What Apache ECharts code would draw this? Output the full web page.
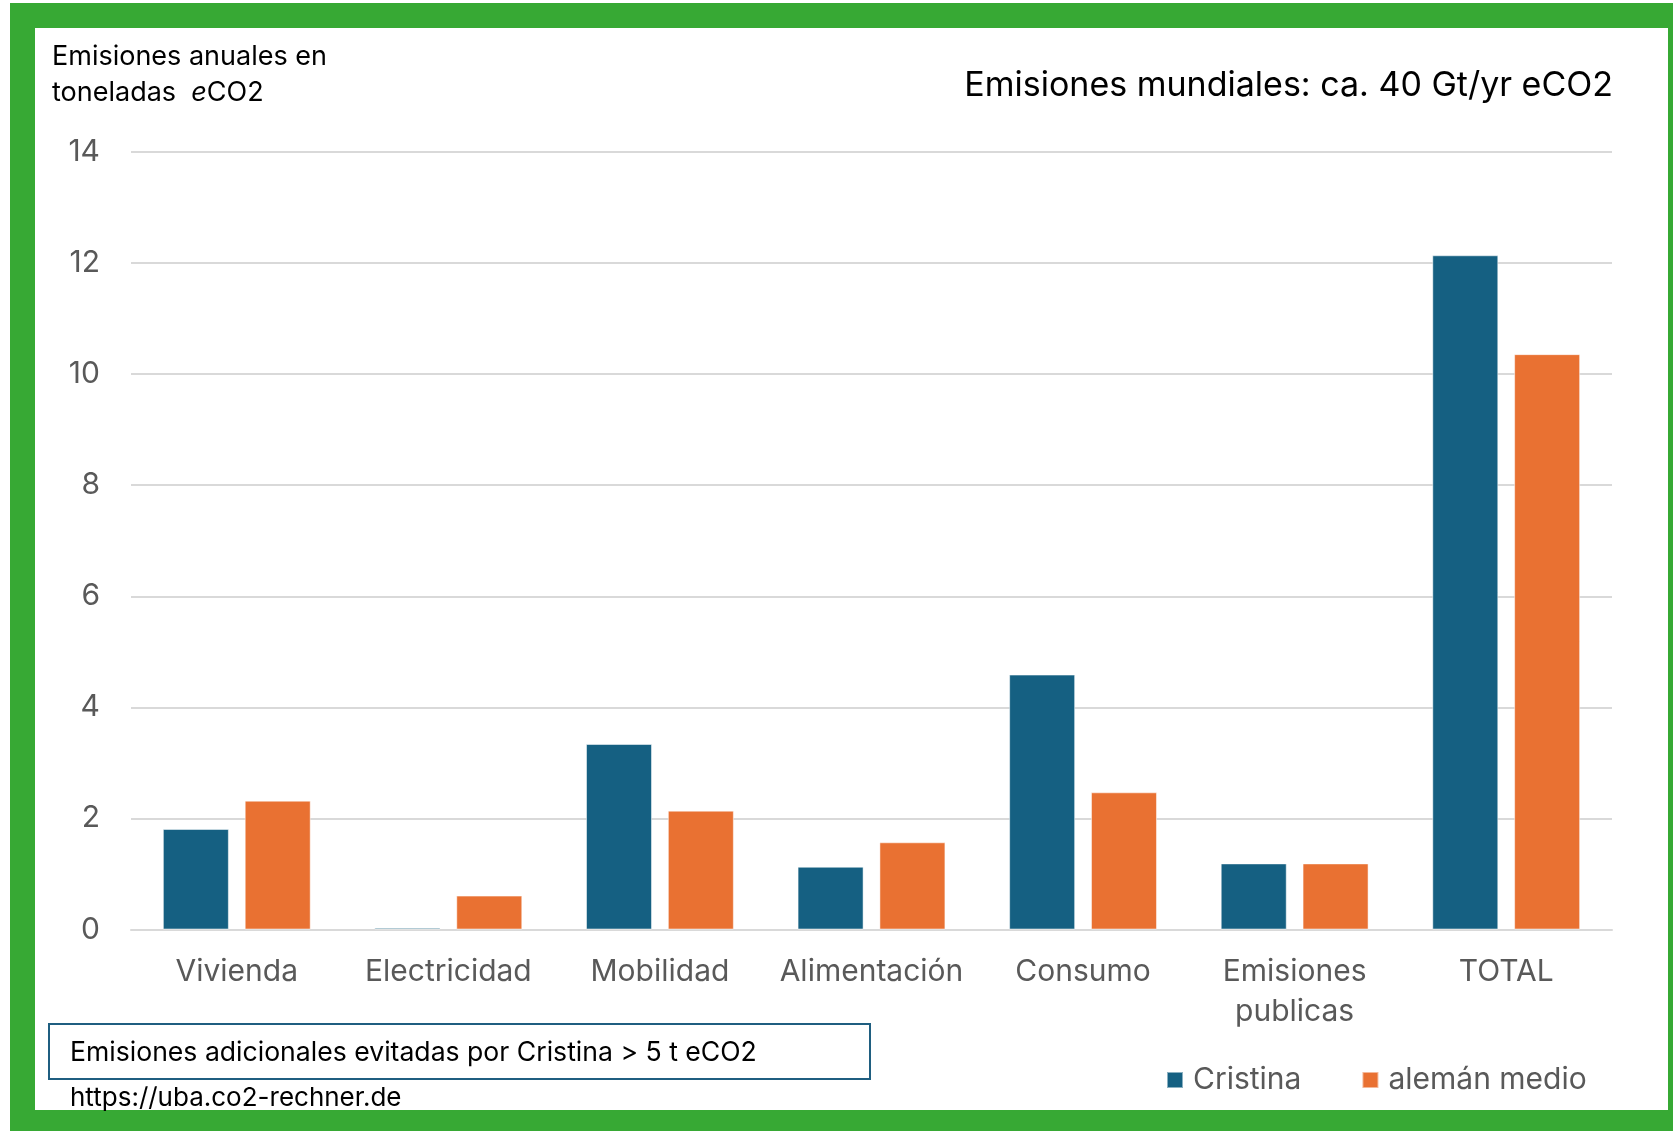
<!DOCTYPE html>
<html>
<head>
<meta charset="utf-8">
<script src="https://cdn.jsdelivr.net/npm/echarts@6/dist/echarts.min.js"></script>
<style>
html,body{margin:0;padding:0;background:#fff;}
#chart{width:1673px;height:1131px;}
</style>
</head>
<body>
<div id="chart"></div>
<script>
const categories = ['Vivienda', 'Electricidad', 'Mobilidad', 'Alimentación', 'Consumo', 'Emisiones\npublicas', 'TOTAL'];
const cristina = [1.81, 0.03, 3.34, 1.13, 4.59, 1.19, 12.14];
const alemanMedio = [2.32, 0.61, 2.14, 1.57, 2.47, 1.19, 10.36];
const seriesNames = ['Cristina', 'alemán medio'];
const yTicks = { min: 0, max: 14, interval: 2 };

const FONT = 'Inter, "Noto Sans", sans-serif';
const GREEN = '#37A934';

const chart = echarts.init(document.getElementById('chart'));
chart.setOption({
  backgroundColor: '#fff',
  animation: false,
  textStyle: { fontFamily: FONT },
  grid: { left: 131, right: 61, top: 152, bottom: 201.5 },
  legend: {
    data: seriesNames,
    left: 1166, top: 1065,
    padding: 0,
    itemWidth: 16, itemHeight: 16, itemGap: 60,
    icon: 'rect',
    textStyle: { fontFamily: FONT, fontSize: 30, color: '#595959', padding: [0, 0, 0, 5] }
  },
  xAxis: {
    type: 'category',
    data: categories,
    axisLine: { lineStyle: { color: '#D9D9D9', width: 2 } },
    axisTick: { show: false },
    axisLabel: { fontFamily: FONT, fontSize: 30, color: '#595959', lineHeight: 40, margin: 22, interval: 0 }
  },
  yAxis: {
    type: 'value',
    min: yTicks.min, max: yTicks.max, interval: yTicks.interval,
    axisLine: { show: false },
    axisTick: { show: false },
    splitLine: { lineStyle: { color: '#D9D9D9', width: 2 } },
    axisLabel: { fontFamily: FONT, fontSize: 30, color: '#595959', margin: 31 }
  },
  series: [
    {
      name: seriesNames[0], type: 'bar', data: cristina,
      barWidth: 66, barGap: '24%',
      itemStyle: { color: '#156082', borderColor: 'rgba(255,255,255,0.5)', borderWidth: 1 }
    },
    {
      name: seriesNames[1], type: 'bar', data: alemanMedio,
      barWidth: 66, barGap: '24%',
      itemStyle: { color: '#E97132', borderColor: 'rgba(255,255,255,0.5)', borderWidth: 1 }
    }
  ],
  graphic: [
    { type: 'rect', shape: { x: 10, y: 3, width: 25, height: 1128 }, style: { fill: GREEN }, silent: true },
    { type: 'rect', shape: { x: 10, y: 3, width: 1663, height: 25 }, style: { fill: GREEN }, silent: true },
    { type: 'rect', shape: { x: 1668, y: 3, width: 5, height: 1128 }, style: { fill: GREEN }, silent: true },
    { type: 'rect', shape: { x: 10, y: 1110, width: 1663, height: 21 }, style: { fill: GREEN }, silent: true },
    {
      type: 'text', left: 52, top: 39,
      style: {
        text: 'Emisiones anuales en\ntoneladas  {i|e}CO2',
        font: '27px ' + FONT, fill: '#000', lineHeight: 36,
        rich: { i: { fontStyle: 'italic', fontSize: 27, fontFamily: FONT, fill: '#000' } }
      }
    },
    {
      type: 'text', x: 1613, y: 86,
      style: {
        text: 'Emisiones mundiales: ca. 40 Gt/yr eCO2',
        font: '34px ' + FONT, fill: '#000', align: 'right', verticalAlign: 'middle'
      }
    },
    {
      type: 'rect', shape: { x: 49, y: 1024, width: 821, height: 55 },
      style: { fill: '#fff', stroke: '#1F5E80', lineWidth: 2 }
    },
    {
      type: 'text', x: 70, y: 1053,
      style: {
        text: 'Emisiones adicionales evitadas por Cristina > 5 t eCO2',
        font: '26.6px ' + FONT, fill: '#000', verticalAlign: 'middle'
      }
    },
    {
      type: 'text', x: 70, y: 1098,
      style: {
        text: 'https://uba.co2-rechner.de',
        font: '26px ' + FONT, fill: '#000', verticalAlign: 'middle'
      }
    }
  ]
});
</script>
</body>
</html>
